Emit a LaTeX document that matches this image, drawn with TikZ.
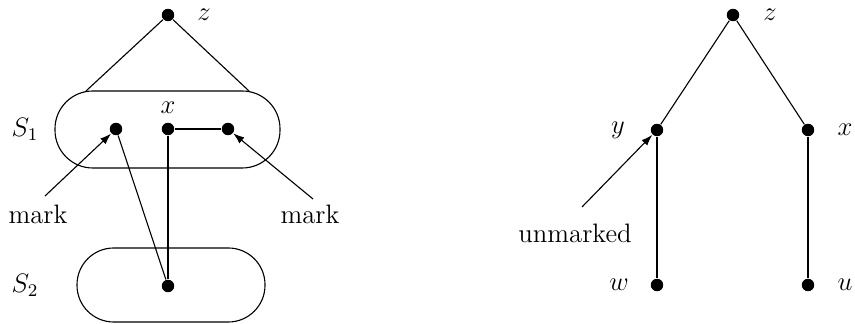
\documentclass[tikz,border=0pt]{standalone}
\usepackage{amsmath}
\usepackage{amssymb}
\usetikzlibrary{arrows.meta}

\begin{document}
\begin{tikzpicture}[x=0.45pt,y=-0.45pt,line width=0.5pt,font=\large,
    dot/.style={circle,fill,inner sep=0pt,minimum size=5.6pt},
    setbox/.style={draw,rounded corners=17pt}]
                \useasboundingbox (0,0) rectangle (855,324);

                % left picture
                \node[dot] (z1) at (168,15) {};
                \node at (204,15) {$z$};

                \draw[setbox] (55,91) rectangle (280,168);
                \node at (25,129) {$S_1$};
                \coordinate (s1l) at (86,91);
                \coordinate (s1r) at (249,91);
                \draw (z1) -- (s1l);
                \draw (z1) -- (s1r);

                \node[dot] (a) at (116,129) {};
                \node[dot] (b) at (168,129) {};
                \node[dot] (c) at (228,129) {};
                \node at (168,108) {$x$};
                \draw (b) -- (c);

                \draw[setbox,rounded corners=16.5pt] (77,248) rectangle (265,322);
                \node at (25,285) {$S_2$};
                \node[dot] (d) at (168,286) {};
                \draw (a) -- (d);
                \draw (b) -- (d);

                \node (m1) at (38,214) {mark};
                \node (m2) at (310,214) {mark};
                \coordinate (t1) at (45,196);
                \coordinate (t2) at (313,199);
                \draw[-{Latex[length=5pt,width=3.5pt]}] (t1) -- (a);
                \draw[-{Latex[length=5pt,width=3.5pt]}] (t2) -- (c);

                % right picture
                \node[dot] (z2) at (733,15) {};
                \node at (770,15) {$z$};
                \node[dot] (y) at (657,130) {};
                \node at (618,130) {$y$};
                \node[dot] (x) at (808,130) {};
                \node at (845,130) {$x$};
                \node[dot] (w) at (657,285) {};
                \node at (619,285) {$w$};
                \node[dot] (u) at (808,285) {};
                \node at (845,285) {$u$};
                \draw (z2) -- (y);
                \draw (z2) -- (x);
                \draw (y) -- (w);
                \draw (x) -- (u);

                \node (um) at (575,233) {unmarked};
                \coordinate (t3) at (582,207);
                \draw[-{Latex[length=5pt,width=3.5pt]}] (t3) -- (y);
            \end{tikzpicture}
\end{document}
